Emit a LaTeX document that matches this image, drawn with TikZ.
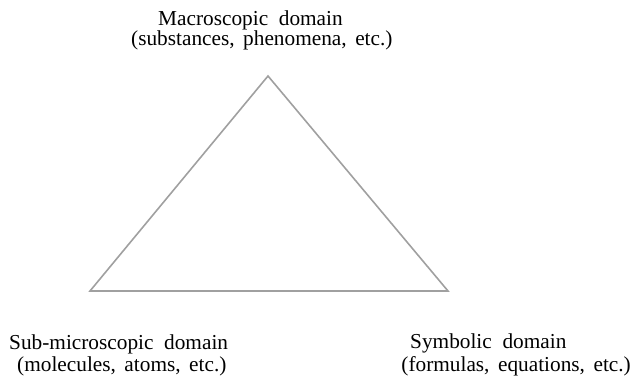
\documentclass[tikz,border=0pt]{standalone}
\usepackage{fontspec}
\setmainfont{Liberation Serif}
\usepackage{xcolor}
\definecolor{edgegray}{HTML}{A0A0A0}
% name lines get wide word gaps, note lines normal ones
\newcommand{\domainfont}{\fontsize{21.3}{23}\selectfont\spaceskip=0.5em plus 0.1em\relax}
\newcommand{\notefont}{\fontsize{21.3}{23}\selectfont\spaceskip=0.4em plus 0.1em\relax}

\begin{document}
\begin{tikzpicture}[x=1pt,y=1pt,
    domainlabel/.style={inner sep=0pt, anchor=base west, font=\domainfont},
    domainnote/.style={inner sep=0pt, anchor=base west, font=\notefont}]
    	\useasboundingbox (0,0) rectangle (632,379);
    	\coordinate (Macro) at (268,303);
    	\coordinate (Sub) at (90,88);
    	\coordinate (Sym) at (448,88);

    	\draw[edgegray, line width=1.6pt, line join=miter] (Macro) foreach \p in {Sym,Sub} {-- (\p)} -- cycle;

    	\node[domainlabel] (MacroA) at (158,353) {Macroscopic domain};
    	\node[domainnote] (MacroB) at (131,333) {(substances, phenomena, etc.)};
    	\node[domainlabel] (SubA) at (9,29) {Sub-microscopic domain};
    	\node[domainnote] (SubB) at (17,7) {(molecules, atoms, etc.)};
    	\node[domainlabel] (SymA) at (410,30) {Symbolic domain};
    	\node[domainnote, anchor=base east] (SymB) at (631,7) {(formulas, equations, etc.)};
    \end{tikzpicture}
\end{document}
